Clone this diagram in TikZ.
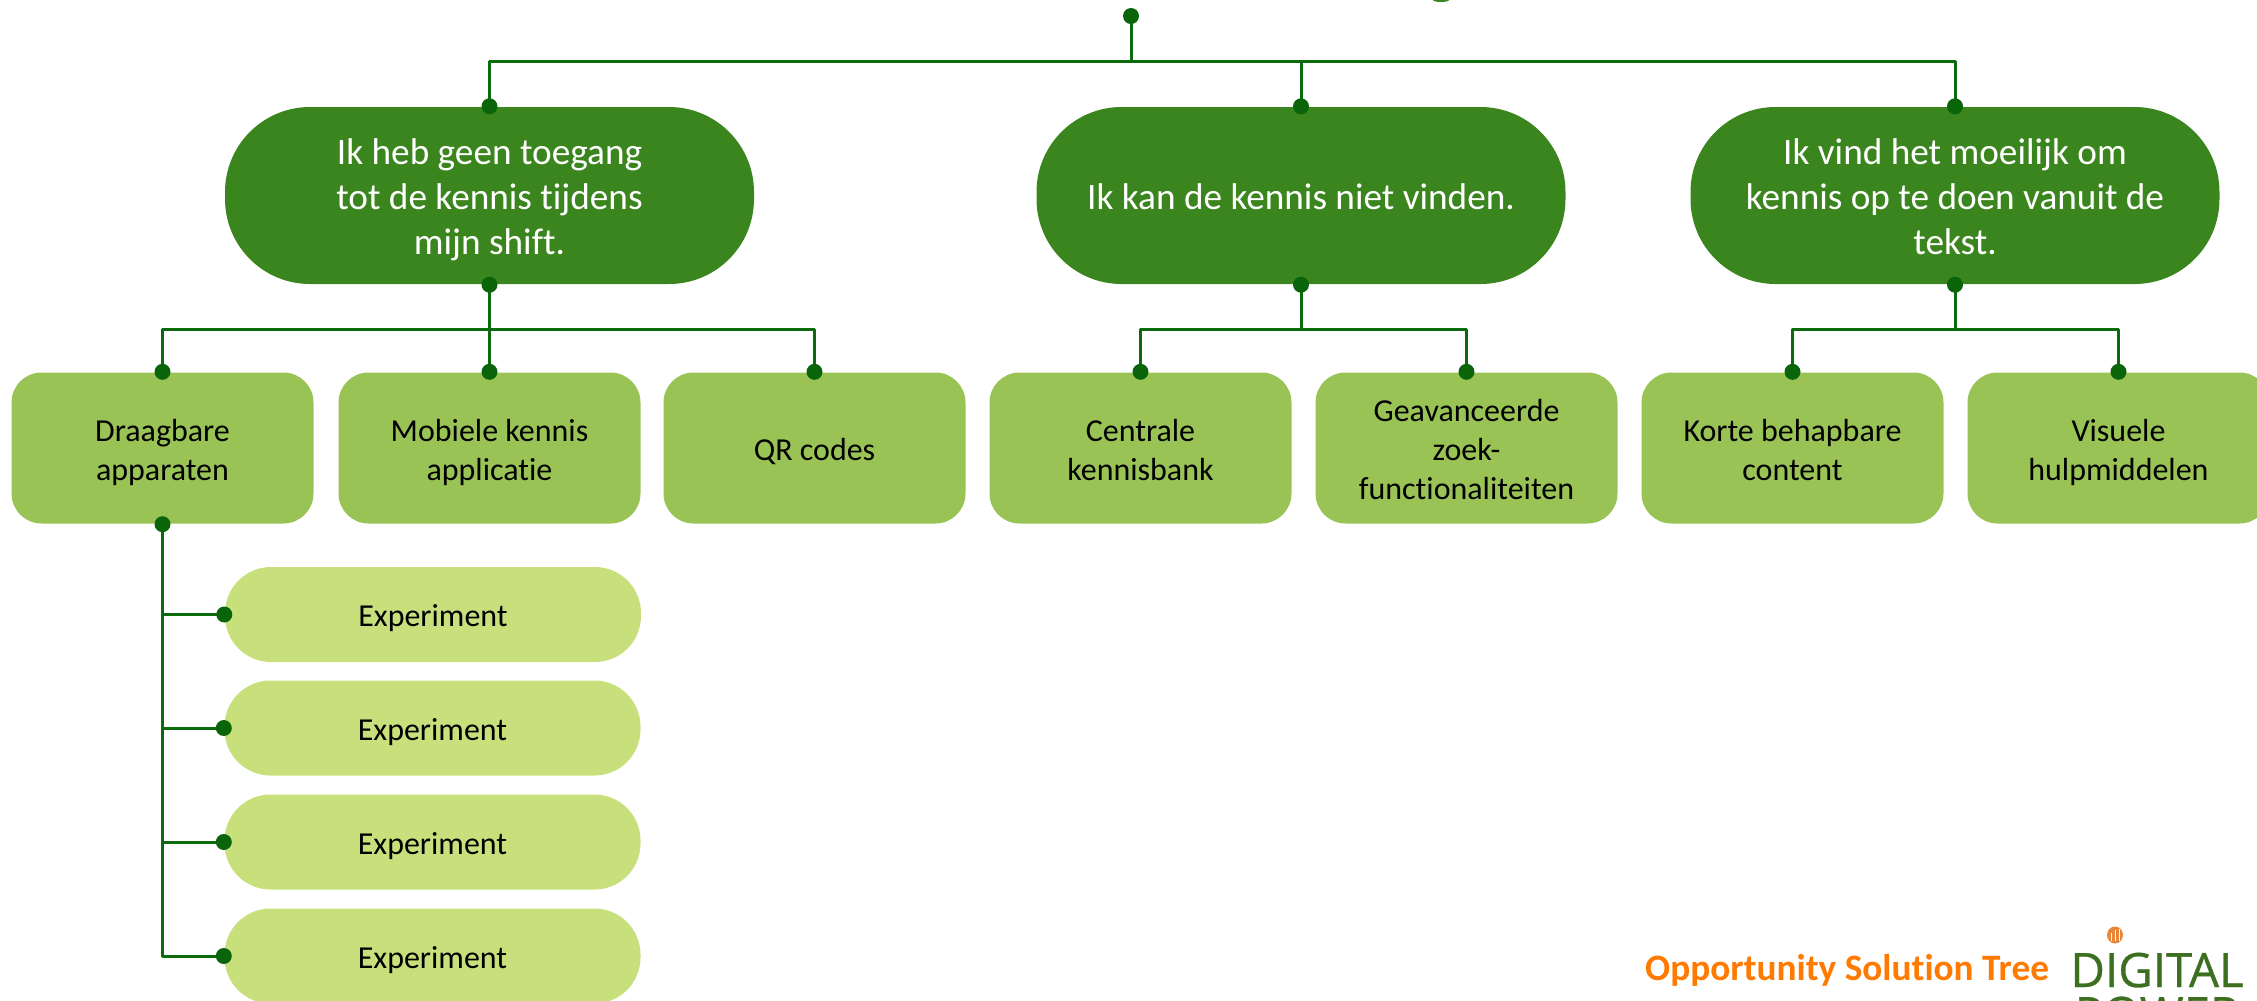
\documentclass[tikz,border=0pt]{standalone}
\usepackage{fontspec}
\setmainfont{Carlito}[Ligatures=NoCommon]
\newfontfamily\logofont{Open Sans}[FakeBold=.6]
\newcommand{\regels}[1]{\raisebox{-.5mm}[\height][\depth]{\begin{tabular}{@{}c@{}}#1\end{tabular}}}
\definecolor{probleem}{HTML}{3B851E}
\definecolor{oplossing}{HTML}{9AC356}
\definecolor{proef}{HTML}{C8E07B}
\definecolor{lijn}{HTML}{0B6A0B}
\definecolor{stip}{HTML}{0A640A}
\definecolor{oranje}{HTML}{FF7A00}
\definecolor{logooranje}{HTML}{E8863A}
\definecolor{logogroen}{HTML}{3C7020}
\tikzset{
	boxtekst/.style={align=center,inner sep=0pt,execute at begin node={\rule{0pt}{1.02em}},execute at end node={\rule[-.269em]{0pt}{0pt}}},
	probleembox/.style={boxtekst,fill=probleem,text=white,minimum width=52.9mm,minimum height=17.7mm,rounded corners=8.5mm,font=\fontsize{10.6}{12.8}\selectfont},
	oplossingbox/.style={boxtekst,fill=oplossing,text=black,minimum width=30.2mm,minimum height=15.1mm,rounded corners=3mm,font=\fontsize{9.1}{11.05}\selectfont},
	proefbox/.style={boxtekst,fill=proef,text=black,minimum width=41.6mm,minimum height=9.5mm,rounded corners=4.6mm,font=\fontsize{9.1}{11.05}\selectfont},
	tak/.style={draw=lijn,line width=.3mm},
	logotekst/.style={text=logogroen,font=\fontsize{13.5}{14}\logofont,inner sep=0pt,anchor=base}
}
\begin{document}
\begin{tikzpicture}[x=.1mm,y=-.1mm,line join=round]
	\clip (0,0) rectangle (2257,1000);
	\coordinate (wortel) at (1131,16);
	\coordinate (bus) at (1131,61.5);
	\node[probleembox] (p1) at (489.5,195.5) {\regels{Ik heb geen toegang\\tot de kennis tijdens\\mijn shift.}};
	\node[probleembox] (p2) at (1301,195.5) {Ik kan de kennis niet vinden.};
	\node[probleembox] (p3) at (1955,195.5) {\regels{Ik vind het moeilijk om\\kennis op te doen vanuit de\\tekst.}};
	\node[oplossingbox] (o1) at (162.5,448) {\regels{Draagbare\\apparaten}};
	\node[oplossingbox] (o2) at (489.5,448) {\regels{Mobiele kennis\\applicatie}};
	\node[oplossingbox] (o3) at (814.5,448) {QR codes};
	\node[oplossingbox] (o4) at (1140.5,448) {\regels{Centrale\\kennisbank}};
	\node[oplossingbox] (o5) at (1466.5,448) {\regels{Geavanceerde\\zoek-\\functionaliteiten}};
	\node[oplossingbox] (o6) at (1792.5,448) {\regels{Korte behapbare\\content}};
	\node[oplossingbox] (o7) at (2118.5,448) {\regels{Visuele\\hulpmiddelen}};
	\node[proefbox] (e1) at (433,614.5) {Experiment};
	\node[proefbox] (e2) at (432.5,728) {Experiment};
	\node[proefbox] (e3) at (432.5,842) {Experiment};
	\node[proefbox] (e4) at (432.5,956) {Experiment};
	\coordinate (b1) at (489.5,329.5);
	\coordinate (b2) at (1301,329.5);
	\coordinate (b3) at (1955,329.5);
	\draw[tak] (wortel)--(bus);
	\draw[tak] (p1.north)--(p1.north|-bus)--(p3.north|-bus)--(p3.north);
	\draw[tak] (p2.north)--(p2.north|-bus);
	\draw[tak] (p1.south)--(o2.north);
	\draw[tak] (o1.north)--(o1.north|-b1)--(o3.north|-b1)--(o3.north);
	\draw[tak] (p2.south)--(b2);
	\draw[tak] (o4.north)--(o4.north|-b2)--(o5.north|-b2)--(o5.north);
	\draw[tak] (p3.south)--(b3);
	\draw[tak] (o6.north)--(o6.north|-b3)--(o7.north|-b3)--(o7.north);
	\draw[tak] (o1.south)--(o1.south|-e4.west)--(e4.west);
	\foreach \e in {e1,e2,e3}
		\draw[tak] (o1.south|-\e.west)--(\e.west);
	\foreach \n in {p1,p2,p3,o1}
		\fill[stip] (\n.south) circle (.8mm);
	\foreach \n in {p1,p2,p3,o1,o2,o3,o4,o5,o6,o7}
		\fill[stip] (\n.north) circle (.8mm);
	\foreach \e in {e1,e2,e3,e4}
		\fill[stip] (\e.west) circle (.8mm);
	\fill[stip] (wortel) circle (.8mm);
	\fill[probleem] (1441,0) ellipse (8 and 2);
	\node[text=oranje,font=\fontsize{10.6}{13}\selectfont\bfseries,inner sep=0pt] (ost) at (1847,970.5) {Opportunity Solution Tree};
	\fill[logooranje] (2115,935) ellipse (8 and 8.5);
	\foreach \x/\t in {2111/933,2115/930,2119/929}
		\draw[white,line width=.1mm] (\x,\t)--(\x,941);
	\node[logotekst] (digital) at (2157,987) {DIGITAL};
	\node[logotekst] (power) at (2157,1031) {POWER};
\end{tikzpicture}
\end{document}
